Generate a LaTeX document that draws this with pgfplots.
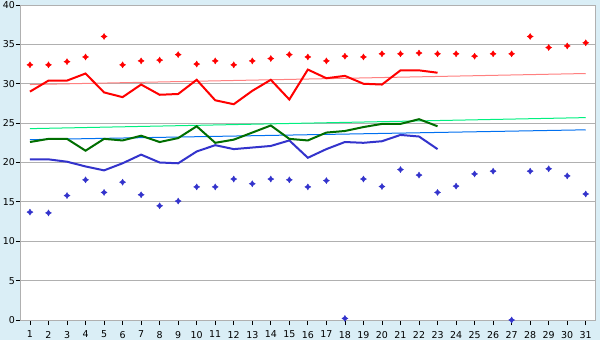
\documentclass[border=0pt]{standalone}
\usepackage{pgfplots}
\pgfplotsset{compat=1.18}
\usepackage{fontspec}
\setmainfont{DejaVu Sans}
\definecolor{bg}{RGB}{218,238,246}
\definecolor{gridgray}{RGB}{176,176,176}
\definecolor{serred}{RGB}{255,0,0}
\definecolor{serblue}{RGB}{51,51,204}
\definecolor{sergreen}{RGB}{0,110,0}
\definecolor{trred}{RGB}{255,128,128}
\definecolor{trgreen}{RGB}{0,240,128}
\definecolor{trblue}{RGB}{0,112,240}
\pgfdeclareplotmark{starfour}{%
  \pgfpathmoveto{\pgfqpoint{0pt}{\pgfplotmarksize}}%
  \pgfpathlineto{\pgfqpoint{.38\pgfplotmarksize}{.38\pgfplotmarksize}}%
  \pgfpathlineto{\pgfqpoint{\pgfplotmarksize}{0pt}}%
  \pgfpathlineto{\pgfqpoint{.38\pgfplotmarksize}{-.38\pgfplotmarksize}}%
  \pgfpathlineto{\pgfqpoint{0pt}{-\pgfplotmarksize}}%
  \pgfpathlineto{\pgfqpoint{-.38\pgfplotmarksize}{-.38\pgfplotmarksize}}%
  \pgfpathlineto{\pgfqpoint{-\pgfplotmarksize}{0pt}}%
  \pgfpathlineto{\pgfqpoint{-.38\pgfplotmarksize}{.38\pgfplotmarksize}}%
  \pgfpathclose
  \pgfusepathqfillstroke
}
\begin{document}
\begin{tikzpicture}
\fill[bg] (0,0) rectangle (600bp,340bp);
\begin{axis}[
  at={(20.7bp,20bp)}, anchor=south west,
  scale only axis, width=574.3bp, height=315bp,
  xmin=0.5, xmax=31.5, ymin=0, ymax=40,
  xtick={1,...,31}, ytick={0,5,...,40},
  axis background/.style={fill=white},
  axis line style={gridgray, line width=0.8bp},
  ymajorgrids, grid style={gridgray, line width=0.8bp},
  tick align=outside, xtick pos=bottom, ytick pos=left,
  major tick length=5bp,
  tick style={black, line width=0.8bp},
  tick label style={font=\fontsize{9.5}{11}\selectfont},
  xticklabel style={yshift=-2.5bp},
  yticklabel style={inner xsep=0.5bp},
  /pgf/number format/assume math mode=true,
  clip mode=individual,
]
% trend lines
\addplot[trred, line width=1bp] coordinates {(1,29.9) (31,31.3)};
\addplot[trgreen, line width=1bp] coordinates {(1,24.3) (31,25.7)};
\addplot[trblue, line width=1bp] coordinates {(1,22.9) (31,24.15)};
% daily lines
\addplot[serblue, line width=2bp] coordinates {
(1,20.4) (2,20.4) (3,20.1) (4,19.5) (5,19.0) (6,19.9) (7,21.0) (8,20.0) (9,19.9) (10,21.4)
(11,22.2) (12,21.7) (13,21.9) (14,22.1) (15,22.8) (16,20.6) (17,21.7) (18,22.6) (19,22.5) (20,22.7)
(21,23.5) (22,23.3) (23,21.7)};
\addplot[sergreen, line width=2bp] coordinates {
(1,22.6) (2,23.0) (3,23.0) (4,21.5) (5,23.0) (6,22.8) (7,23.4) (8,22.6) (9,23.1) (10,24.6)
(11,22.5) (12,22.9) (13,23.8) (14,24.7) (15,23.0) (16,22.8) (17,23.8) (18,24.0) (19,24.5) (20,24.9)
(21,24.9) (22,25.5) (23,24.6)};
\addplot[serred, line width=2bp] coordinates {
(1,29.0) (2,30.4) (3,30.4) (4,31.3) (5,28.9) (6,28.3) (7,29.9) (8,28.6) (9,28.7) (10,30.5)
(11,27.9) (12,27.4) (13,29.1) (14,30.5) (15,28.0) (16,31.8) (17,30.7) (18,31.0) (19,30.0) (20,29.9)
(21,31.7) (22,31.7) (23,31.4)};
% record markers
\addplot[only marks, mark=starfour, mark size=3bp, serred, mark options={fill=serred, draw=serred, line width=0.4bp}] coordinates {
(1,32.4) (2,32.4) (3,32.8) (4,33.4) (5,36.0) (6,32.4) (7,32.9) (8,33.0) (9,33.7) (10,32.5)
(11,32.9) (12,32.4) (13,32.9) (14,33.2) (15,33.7) (16,33.4) (17,32.9) (18,33.5) (19,33.4) (20,33.8)
(21,33.8) (22,33.9) (23,33.8) (24,33.8) (25,33.5) (26,33.8) (27,33.8) (28,36.0) (29,34.6) (30,34.8) (31,35.2)};
\addplot[only marks, mark=starfour, mark size=3bp, serblue, mark options={fill=serblue, draw=serblue, line width=0.4bp}] coordinates {
(1,13.7) (2,13.6) (3,15.8) (4,17.8) (5,16.2) (6,17.5) (7,15.9) (8,14.5) (9,15.1) (10,16.9)
(11,16.9) (12,17.9) (13,17.3) (14,17.9) (15,17.8) (16,16.9) (17,17.7) (18,0.2) (19,17.9) (20,16.95)
(21,19.1) (22,18.4) (23,16.2) (24,17.0) (25,18.55) (26,18.9) (27,0) (28,18.9) (29,19.2) (30,18.3) (31,16.0)};
\end{axis}
\pgfresetboundingbox
\path (0,0) rectangle (600bp,340bp);
\end{tikzpicture}
\end{document}
